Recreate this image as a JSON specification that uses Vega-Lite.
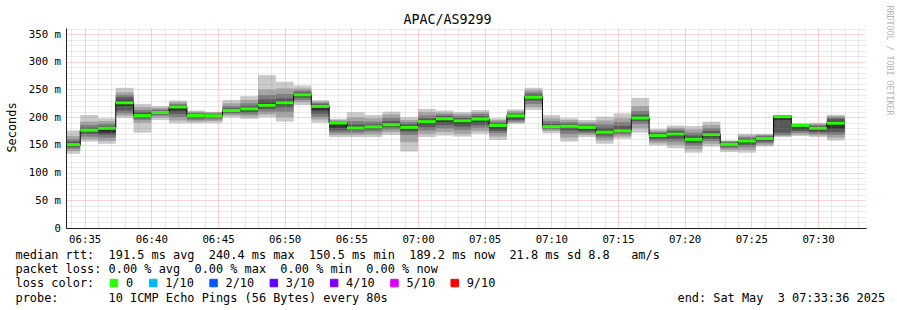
{
  "$schema": "https://vega.github.io/schema/vega-lite/v6.json",
  "width": 800,
  "height": 200,
  "autosize": {"type": "none"},
  "padding": {"left": 66, "top": 28, "right": 31, "bottom": 82},
  "background": "white",
  "title": {"text": "APAC/AS9299", "font": "DejaVu Sans Mono", "fontSize": 13.3, "fontWeight": "normal", "color": "#000", "anchor": "middle", "frame": "group", "dx": -18.5, "dy": 36.5, "baseline": "alphabetic", "offset": 4},
  "config": {"view": {"stroke": null}, "axis": {"labelFont": "DejaVu Sans Mono", "titleFont": "DejaVu Sans Mono"}},
  "data": {"values": [
    {"t0": "2025-05-03T06:33:20Z", "t1": "2025-05-03T06:34:40Z", "p1": 134, "p2": 139, "p3": 143, "p4": 146, "p5": 148, "med": 150.5, "p6": 153, "p7": 156, "p8": 160, "p9": 166, "p10": 176, "loss": "0"},
    {"t0": "2025-05-03T06:34:40Z", "t1": "2025-05-03T06:36:00Z", "p1": 156, "p2": 160, "p3": 165, "p4": 170, "p5": 174, "med": 176.5, "p6": 178, "p7": 181, "p8": 186, "p9": 192, "p10": 204, "loss": "0"},
    {"t0": "2025-05-03T06:36:00Z", "t1": "2025-05-03T06:37:20Z", "p1": 152, "p2": 157, "p3": 163, "p4": 168, "p5": 172, "med": 180, "p6": 181, "p7": 184, "p8": 188, "p9": 193, "p10": 198, "loss": "0"},
    {"t0": "2025-05-03T06:37:20Z", "t1": "2025-05-03T06:38:40Z", "p1": 199, "p2": 203, "p3": 207, "p4": 212, "p5": 220, "med": 226, "p6": 230, "p7": 236, "p8": 240, "p9": 245, "p10": 253, "loss": "0"},
    {"t0": "2025-05-03T06:38:40Z", "t1": "2025-05-03T06:40:00Z", "p1": 172, "p2": 190, "p3": 195, "p4": 198, "p5": 201, "med": 203, "p6": 206, "p7": 209, "p8": 213, "p9": 218, "p10": 224, "loss": "0"},
    {"t0": "2025-05-03T06:40:00Z", "t1": "2025-05-03T06:41:20Z", "p1": 195, "p2": 199, "p3": 203, "p4": 205, "p5": 207, "med": 208.5, "p6": 210, "p7": 212, "p8": 214, "p9": 217, "p10": 220, "loss": "0"},
    {"t0": "2025-05-03T06:41:20Z", "t1": "2025-05-03T06:42:40Z", "p1": 189, "p2": 194, "p3": 200, "p4": 206, "p5": 212, "med": 218.5, "p6": 220, "p7": 222, "p8": 224, "p9": 227, "p10": 230, "loss": "0"},
    {"t0": "2025-05-03T06:42:40Z", "t1": "2025-05-03T06:44:00Z", "p1": 189, "p2": 192, "p3": 195, "p4": 198, "p5": 201, "med": 203, "p6": 204, "p7": 206, "p8": 208, "p9": 210, "p10": 212, "loss": "0"},
    {"t0": "2025-05-03T06:44:00Z", "t1": "2025-05-03T06:45:20Z", "p1": 189, "p2": 193, "p3": 196, "p4": 199, "p5": 201, "med": 202.5, "p6": 204, "p7": 205, "p8": 207, "p9": 209, "p10": 210, "loss": "0"},
    {"t0": "2025-05-03T06:45:20Z", "t1": "2025-05-03T06:46:40Z", "p1": 200, "p2": 203, "p3": 206, "p4": 208, "p5": 210, "med": 212, "p6": 213, "p7": 216, "p8": 220, "p9": 225, "p10": 231, "loss": "0"},
    {"t0": "2025-05-03T06:46:40Z", "t1": "2025-05-03T06:48:00Z", "p1": 197, "p2": 201, "p3": 205, "p4": 209, "p5": 212, "med": 215, "p6": 217, "p7": 220, "p8": 225, "p9": 231, "p10": 238, "loss": "0"},
    {"t0": "2025-05-03T06:48:00Z", "t1": "2025-05-03T06:49:20Z", "p1": 200, "p2": 205, "p3": 210, "p4": 215, "p5": 219, "med": 221.5, "p6": 226, "p7": 232, "p8": 240, "p9": 250, "p10": 276, "loss": "0"},
    {"t0": "2025-05-03T06:49:20Z", "t1": "2025-05-03T06:50:40Z", "p1": 192, "p2": 200, "p3": 210, "p4": 218, "p5": 223, "med": 226, "p6": 229, "p7": 234, "p8": 242, "p9": 252, "p10": 264, "loss": "0"},
    {"t0": "2025-05-03T06:50:40Z", "t1": "2025-05-03T06:52:00Z", "p1": 222, "p2": 227, "p3": 231, "p4": 235, "p5": 238, "med": 240.4, "p6": 242, "p7": 245, "p8": 248, "p9": 252, "p10": 257, "loss": "0"},
    {"t0": "2025-05-03T06:52:00Z", "t1": "2025-05-03T06:53:20Z", "p1": 190, "p2": 196, "p3": 201, "p4": 206, "p5": 212, "med": 219.5, "p6": 221, "p7": 224, "p8": 226, "p9": 228, "p10": 231, "loss": "0"},
    {"t0": "2025-05-03T06:53:20Z", "t1": "2025-05-03T06:54:40Z", "p1": 164, "p2": 168, "p3": 172, "p4": 176, "p5": 181, "med": 189.5, "p6": 190, "p7": 191, "p8": 193, "p9": 195, "p10": 197, "loss": "0"},
    {"t0": "2025-05-03T06:54:40Z", "t1": "2025-05-03T06:56:00Z", "p1": 164, "p2": 168, "p3": 172, "p4": 176, "p5": 179, "med": 180.5, "p6": 183, "p7": 187, "p8": 193, "p9": 200, "p10": 209, "loss": "0"},
    {"t0": "2025-05-03T06:56:00Z", "t1": "2025-05-03T06:57:20Z", "p1": 164, "p2": 169, "p3": 174, "p4": 178, "p5": 181, "med": 182.5, "p6": 184, "p7": 187, "p8": 192, "p9": 198, "p10": 204, "loss": "0"},
    {"t0": "2025-05-03T06:57:20Z", "t1": "2025-05-03T06:58:40Z", "p1": 168, "p2": 173, "p3": 178, "p4": 182, "p5": 185, "med": 186.5, "p6": 189, "p7": 193, "p8": 199, "p9": 205, "p10": 210, "loss": "0"},
    {"t0": "2025-05-03T06:58:40Z", "t1": "2025-05-03T07:00:00Z", "p1": 138, "p2": 155, "p3": 168, "p4": 174, "p5": 178, "med": 181.5, "p6": 184, "p7": 187, "p8": 191, "p9": 195, "p10": 200, "loss": "0"},
    {"t0": "2025-05-03T07:00:00Z", "t1": "2025-05-03T07:01:20Z", "p1": 164, "p2": 170, "p3": 176, "p4": 182, "p5": 188, "med": 192, "p6": 194, "p7": 198, "p8": 203, "p9": 209, "p10": 215, "loss": "0"},
    {"t0": "2025-05-03T07:01:20Z", "t1": "2025-05-03T07:02:40Z", "p1": 167, "p2": 173, "p3": 180, "p4": 186, "p5": 192, "med": 197, "p6": 199, "p7": 202, "p8": 205, "p9": 208, "p10": 212, "loss": "0"},
    {"t0": "2025-05-03T07:02:40Z", "t1": "2025-05-03T07:04:00Z", "p1": 165, "p2": 170, "p3": 177, "p4": 183, "p5": 188, "med": 193.5, "p6": 196, "p7": 199, "p8": 202, "p9": 206, "p10": 209, "loss": "0"},
    {"t0": "2025-05-03T07:04:00Z", "t1": "2025-05-03T07:05:20Z", "p1": 170, "p2": 175, "p3": 181, "p4": 186, "p5": 192, "med": 196.5, "p6": 199, "p7": 202, "p8": 206, "p9": 209, "p10": 213, "loss": "0"},
    {"t0": "2025-05-03T07:05:20Z", "t1": "2025-05-03T07:06:40Z", "p1": 159, "p2": 165, "p3": 171, "p4": 175, "p5": 179, "med": 185, "p6": 187, "p7": 189, "p8": 192, "p9": 195, "p10": 198, "loss": "0"},
    {"t0": "2025-05-03T07:06:40Z", "t1": "2025-05-03T07:08:00Z", "p1": 188, "p2": 190, "p3": 192, "p4": 195, "p5": 198, "med": 202.5, "p6": 204, "p7": 206, "p8": 208, "p9": 211, "p10": 214, "loss": "0"},
    {"t0": "2025-05-03T07:08:00Z", "t1": "2025-05-03T07:09:20Z", "p1": 213, "p2": 218, "p3": 224, "p4": 230, "p5": 234, "med": 236, "p6": 238, "p7": 241, "p8": 245, "p9": 249, "p10": 253, "loss": "0"},
    {"t0": "2025-05-03T07:09:20Z", "t1": "2025-05-03T07:10:40Z", "p1": 171, "p2": 175, "p3": 178, "p4": 180, "p5": 181.5, "med": 183, "p6": 185, "p7": 188, "p8": 193, "p9": 198, "p10": 204, "loss": "0"},
    {"t0": "2025-05-03T07:10:40Z", "t1": "2025-05-03T07:12:00Z", "p1": 156, "p2": 163, "p3": 170, "p4": 176, "p5": 181, "med": 183.5, "p6": 185, "p7": 188, "p8": 191, "p9": 195, "p10": 198, "loss": "0"},
    {"t0": "2025-05-03T07:12:00Z", "t1": "2025-05-03T07:13:20Z", "p1": 164, "p2": 168, "p3": 171, "p4": 174, "p5": 177, "med": 181.5, "p6": 183, "p7": 185, "p8": 188, "p9": 191, "p10": 195, "loss": "0"},
    {"t0": "2025-05-03T07:13:20Z", "t1": "2025-05-03T07:14:40Z", "p1": 152, "p2": 158, "p3": 163, "p4": 167, "p5": 171, "med": 173, "p6": 176, "p7": 181, "p8": 187, "p9": 194, "p10": 201, "loss": "0"},
    {"t0": "2025-05-03T07:14:40Z", "t1": "2025-05-03T07:16:00Z", "p1": 161, "p2": 165, "p3": 169, "p4": 172, "p5": 174, "med": 175.5, "p6": 179, "p7": 184, "p8": 191, "p9": 198, "p10": 207, "loss": "0"},
    {"t0": "2025-05-03T07:16:00Z", "t1": "2025-05-03T07:17:20Z", "p1": 172, "p2": 180, "p3": 188, "p4": 193, "p5": 196, "med": 198.5, "p6": 201, "p7": 205, "p8": 211, "p9": 220, "p10": 235, "loss": "0"},
    {"t0": "2025-05-03T07:17:20Z", "t1": "2025-05-03T07:18:40Z", "p1": 149, "p2": 153, "p3": 157, "p4": 161, "p5": 164, "med": 167, "p6": 169, "p7": 171, "p8": 173, "p9": 176, "p10": 179, "loss": "0"},
    {"t0": "2025-05-03T07:18:40Z", "t1": "2025-05-03T07:20:00Z", "p1": 144, "p2": 150, "p3": 156, "p4": 161, "p5": 166, "med": 169.5, "p6": 172, "p7": 175, "p8": 178, "p9": 181, "p10": 185, "loss": "0"},
    {"t0": "2025-05-03T07:20:00Z", "t1": "2025-05-03T07:21:20Z", "p1": 136, "p2": 142, "p3": 148, "p4": 153, "p5": 157, "med": 160, "p6": 163, "p7": 167, "p8": 172, "p9": 178, "p10": 184, "loss": "0"},
    {"t0": "2025-05-03T07:21:20Z", "t1": "2025-05-03T07:22:40Z", "p1": 147, "p2": 152, "p3": 157, "p4": 161, "p5": 165, "med": 168.5, "p6": 171, "p7": 175, "p8": 180, "p9": 186, "p10": 192, "loss": "0"},
    {"t0": "2025-05-03T07:22:40Z", "t1": "2025-05-03T07:24:00Z", "p1": 137, "p2": 141, "p3": 144, "p4": 147, "p5": 149, "med": 151, "p6": 153, "p7": 154.5, "p8": 156, "p9": 157, "p10": 158, "loss": "0"},
    {"t0": "2025-05-03T07:24:00Z", "t1": "2025-05-03T07:25:20Z", "p1": 136, "p2": 141, "p3": 146, "p4": 150, "p5": 154, "med": 157, "p6": 159, "p7": 161, "p8": 164, "p9": 167, "p10": 170, "loss": "0"},
    {"t0": "2025-05-03T07:25:20Z", "t1": "2025-05-03T07:26:40Z", "p1": 147, "p2": 150, "p3": 153, "p4": 156, "p5": 159, "med": 161.5, "p6": 163, "p7": 165, "p8": 167, "p9": 168.5, "p10": 170, "loss": "0"},
    {"t0": "2025-05-03T07:26:40Z", "t1": "2025-05-03T07:28:00Z", "p1": 164, "p2": 166, "p3": 168, "p4": 172, "p5": 195, "med": 201, "p6": 202, "p7": 203, "p8": 203.5, "p9": 204, "p10": 204.5, "loss": "0"},
    {"t0": "2025-05-03T07:28:00Z", "t1": "2025-05-03T07:29:20Z", "p1": 166, "p2": 169, "p3": 172, "p4": 175, "p5": 179, "med": 185, "p6": 186, "p7": 187, "p8": 187.5, "p9": 188, "p10": 189, "loss": "0"},
    {"t0": "2025-05-03T07:29:20Z", "t1": "2025-05-03T07:30:40Z", "p1": 164, "p2": 167, "p3": 170, "p4": 173, "p5": 176, "med": 180, "p6": 182, "p7": 184, "p8": 186, "p9": 188, "p10": 190, "loss": "0"},
    {"t0": "2025-05-03T07:30:40Z", "t1": "2025-05-03T07:32:00Z", "p1": 158, "p2": 163, "p3": 168, "p4": 173, "p5": 179, "med": 189.2, "p6": 193, "p7": 197, "p8": 200, "p9": 202, "p10": 204.5, "loss": "0"}
  ]},
  "layer": [
    {
      "mark": {"type": "rect", "color": "#cacaca", "clip": true},
      "encoding": {
        "x": {"field": "t0", "type": "temporal",
          "scale": {"type": "utc", "domain": [1746254016000, 1746257616000], "nice": false},
          "axis": {"orient": "bottom",
            "values": [1746254100000, 1746254400000, 1746254700000, 1746255000000, 1746255300000, 1746255600000, 1746255900000, 1746256200000, 1746256500000, 1746256800000, 1746257100000, 1746257400000],
            "labelExpr": "utcFormat(datum.value, '%H:%M')",
            "grid": true, "gridColor": "#F58080", "gridOpacity": 0.7, "gridDash": [1, 1],
            "ticks": false, "labelFontSize": 10.7, "labelColor": "#000", "labelPadding": 14, "labelBaseline": "alphabetic", "labelFlush": false, "labelOverlap": false,
            "domain": true, "domainColor": "#212121",
            "title": ["median\u00a0rtt:\u00a0\u00a0191.5\u00a0ms\u00a0avg\u00a0\u00a0240.4\u00a0ms\u00a0max\u00a0\u00a0150.5\u00a0ms\u00a0min\u00a0\u00a0189.2\u00a0ms\u00a0now\u00a0\u00a021.8\u00a0ms\u00a0sd\u00a08.8\u00a0\u00a0\u00a0am/s",
                      "packet\u00a0loss:\u00a00.00\u00a0%\u00a0avg\u00a0\u00a00.00\u00a0%\u00a0max\u00a0\u00a00.00\u00a0%\u00a0min\u00a0\u00a00.00\u00a0%\u00a0now",
                      "loss\u00a0color:",
                      "probe:\u00a0\u00a0\u00a0\u00a0\u00a0\u00a0\u00a010\u00a0ICMP\u00a0Echo\u00a0Pings\u00a0(56\u00a0Bytes)\u00a0every\u00a080s"],
            "titleFontSize": 11.9, "titleFontWeight": "normal", "titleColor": "#000", "titleAlign": "left", "titleAnchor": "start",
            "titleX": -51, "titleY": 30.5, "titleLineHeight": 14.2, "titleBaseline": "alphabetic", "zindex": 1}},
        "x2": {"field": "t1"},
        "y": {"field": "p1", "type": "quantitative",
          "scale": {"domain": [0, 361], "nice": false, "zero": true},
          "axis": {"orient": "left", "values": [0, 50, 100, 150, 200, 250, 300, 350],
            "labelExpr": "datum.value == 0 ? '0\u00a0\u00a0' : datum.value + '\u00a0m'",
            "grid": true, "gridColor": "#F58080", "gridOpacity": 0.7, "gridDash": [1, 1],
            "ticks": false, "labelFontSize": 10.7, "labelColor": "#000", "labelPadding": 5.5,
            "domain": true, "domainColor": "#212121",
            "title": "Seconds", "titleFontSize": 11.9, "titleFontWeight": "normal", "titleColor": "#000",
            "titleAngle": -90, "titleX": -55, "titleY": 99, "titleAlign": "center", "titleBaseline": "middle", "zindex": 1}},
        "y2": {"field": "p10"}
      }
    },
    {
      "mark": {"type": "rect", "color": "#a4a4a4", "clip": true},
      "encoding": {
        "x": {"field": "t0", "type": "temporal", "axis": null},
        "x2": {"field": "t1"},
        "y": {"field": "p2", "type": "quantitative", "axis": null},
        "y2": {"field": "p9"}
      }
    },
    {
      "mark": {"type": "rect", "color": "#7e7e7e", "clip": true},
      "encoding": {
        "x": {"field": "t0", "type": "temporal", "axis": null},
        "x2": {"field": "t1"},
        "y": {"field": "p3", "type": "quantitative", "axis": null},
        "y2": {"field": "p8"}
      }
    },
    {
      "mark": {"type": "rect", "color": "#585858", "clip": true},
      "encoding": {
        "x": {"field": "t0", "type": "temporal", "axis": null},
        "x2": {"field": "t1"},
        "y": {"field": "p4", "type": "quantitative", "axis": null},
        "y2": {"field": "p7"}
      }
    },
    {
      "mark": {"type": "rect", "color": "#323232", "clip": true},
      "encoding": {
        "x": {"field": "t0", "type": "temporal", "axis": null},
        "x2": {"field": "t1"},
        "y": {"field": "p5", "type": "quantitative", "axis": null},
        "y2": {"field": "p6"}
      }
    },
    {
      "mark": {"type": "line", "color": "#000", "strokeWidth": 1, "interpolate": "step-after", "clip": true},
      "encoding": {
        "x": {"field": "t0", "type": "temporal", "axis": null},
        "y": {"field": "med", "type": "quantitative", "axis": null}
      }
    },
    {
      "mark": {"type": "rule", "strokeWidth": 3, "strokeCap": "butt", "clip": true},
      "encoding": {
        "x": {"field": "t0", "type": "temporal",
          "axis": {"orient": "top",
            "values": [1746254040000, 1746254160000, 1746254220000, 1746254280000, 1746254340000, 1746254460000, 1746254520000, 1746254580000, 1746254640000, 1746254760000, 1746254820000, 1746254880000, 1746254940000, 1746255060000, 1746255120000, 1746255180000, 1746255240000, 1746255360000, 1746255420000, 1746255480000, 1746255540000, 1746255660000, 1746255720000, 1746255780000, 1746255840000, 1746255960000, 1746256020000, 1746256080000, 1746256140000, 1746256260000, 1746256320000, 1746256380000, 1746256440000, 1746256560000, 1746256620000, 1746256680000, 1746256740000, 1746256860000, 1746256920000, 1746256980000, 1746257040000, 1746257160000, 1746257220000, 1746257280000, 1746257340000, 1746257460000, 1746257520000, 1746257580000],
            "grid": true, "gridColor": "#8C8C8C", "gridOpacity": 0.35, "gridDash": [1, 1],
            "labels": false, "ticks": false, "domain": false,
            "title": "end:\u00a0Sat\u00a0May\u00a0\u00a03\u00a007:33:36\u00a02025",
            "titleFontSize": 11.9, "titleFontWeight": "normal", "titleColor": "#000", "titleAlign": "left", "titleAnchor": "start",
            "titleX": 611, "titleY": 273.3, "titleBaseline": "alphabetic", "zindex": 1}},
        "x2": {"field": "t1"},
        "y": {"field": "med", "type": "quantitative",
          "axis": {"orient": "right",
            "values": [10, 20, 30, 40, 60, 70, 80, 90, 110, 120, 130, 140, 160, 170, 180, 190, 210, 220, 230, 240, 260, 270, 280, 290, 310, 320, 330, 340, 360],
            "grid": true, "gridColor": "#8C8C8C", "gridOpacity": 0.35, "gridDash": [1, 1],
            "labels": false, "ticks": false, "domain": false,
            "title": "RRDTOOL\u00a0/\u00a0TOBI\u00a0OETIKER", "titleFontSize": 8.3, "titleFontWeight": "normal", "titleColor": "#b4b4b4",
            "titleAngle": 90, "titleX": 22, "titleY": -23, "titleAlign": "left", "titleBaseline": "middle", "zindex": 1}},
        "color": {"field": "loss", "type": "nominal",
          "scale": {"domain": ["0", "1/10", "2/10", "3/10", "4/10", "5/10", "9/10"],
                    "range": ["#26ff00", "#00b8ff", "#0059ff", "#5e00ff", "#7e00ff", "#dd00ff", "#ff0000"]},
          "legend": {"orient": "none", "legendX": 42, "legendY": 249, "direction": "horizontal", "title": null,
            "symbolType": "square", "symbolSize": 56, "symbolStrokeWidth": 1, "symbolStrokeColor": "#000",
            "labelFont": "DejaVu Sans Mono", "labelFontSize": 11.9, "labelColor": "#000", "labelOffset": 6,
            "columnPadding": 13.3, "padding": 0,
            "encode": {"symbols": {"update": {"fill": {"scale": "color", "field": "value"}, "stroke": {"value": "#000"}, "strokeWidth": {"value": 1}, "shape": {"value": "square"}, "size": {"value": 56}, "opacity": {"value": 1}, "fillOpacity": {"value": 1}, "strokeDash": {"value": []}}}}}}
      }
    }
  ],
  "resolve": {"axis": {"x": "independent", "y": "independent"}}
}
